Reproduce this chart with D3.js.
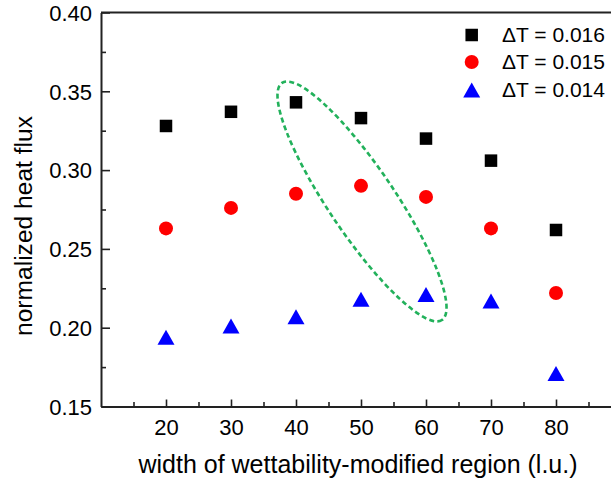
<!DOCTYPE html>
<html>
<head>
<meta charset="utf-8">
<script src="https://cdn.jsdelivr.net/npm/d3@7"></script>
<style>
  html, body { margin: 0; padding: 0; background: #fff; }
  svg { display: block; }
  text { font-family: "Liberation Sans", Arial, sans-serif; fill: #000; }
</style>
</head>
<body>
<svg id="chart" width="611" height="487"></svg>
<script>
// Width of the wettability-modified region (lattice units)
const widths = [20, 30, 40, 50, 60, 70, 80];

// Normalized heat flux for each superheat
const fluxDT016 = [0.328, 0.337, 0.343, 0.333, 0.320, 0.306, 0.262];
const fluxDT015 = [0.263, 0.276, 0.285, 0.290, 0.283, 0.263, 0.222];
const fluxDT014 = [0.194, 0.201, 0.207, 0.218, 0.221, 0.217, 0.171];

const seriesLabels = ["\u0394T = 0.016", "\u0394T = 0.015", "\u0394T = 0.014"];

// Axis ticks
const xMajorTicks = [20, 30, 40, 50, 60, 70, 80];
const xMinorTicks = [15, 25, 35, 45, 55, 65, 75, 85];
const yMajorTicks = [0.15, 0.20, 0.25, 0.30, 0.35, 0.40];
const yMinorTicks = [0.175, 0.225, 0.275, 0.325, 0.375];

// Highlighted group: ends of the ellipse's long axis (data units)
const highlightEnds = [[37.85, 0.3553], [62.46, 0.2049]];

const svg = d3.select("#chart");
const W = 611, H = 487;
const plotLeft = 101, plotTop = 12.5, plotBottom = 406.5;

const x = d3.scaleLinear().domain([10, 90]).range([plotLeft, 621]);
const y = d3.scaleLinear().domain([0.15, 0.40]).range([plotBottom, plotTop]);

const axisColor = "#222";

// top frame line
svg.append("line")
  .attr("x1", plotLeft).attr("x2", W)
  .attr("y1", plotTop).attr("y2", plotTop)
  .attr("stroke", axisColor).attr("stroke-width", 2);

// x axis
const gx = svg.append("g").attr("transform", `translate(0,${plotBottom})`);
gx.call(d3.axisBottom(x).tickValues(xMajorTicks).tickSizeInner(-7).tickSizeOuter(0)
  .tickPadding(13).tickFormat(d3.format("d")));
svg.append("g").attr("transform", `translate(0,${plotBottom})`)
  .call(d3.axisBottom(x).tickValues(xMinorTicks).tickSizeInner(-4.5).tickSizeOuter(0).tickFormat(""))
  .call(g => g.select(".domain").remove());

// y axis
const gy = svg.append("g").attr("transform", `translate(${plotLeft},0)`);
gy.call(d3.axisLeft(y).tickValues(yMajorTicks).tickSizeInner(-9).tickSizeOuter(0)
  .tickPadding(9).tickFormat(d3.format(".2f")));
svg.append("g").attr("transform", `translate(${plotLeft},0)`)
  .call(d3.axisLeft(y).tickValues(yMinorTicks).tickSizeInner(-5).tickSizeOuter(0).tickFormat(""))
  .call(g => g.select(".domain").remove());

svg.selectAll(".domain").attr("stroke", axisColor).attr("stroke-width", 2);
svg.selectAll(".tick line").attr("stroke", axisColor).attr("stroke-width", 1.6);
svg.selectAll(".tick text")
  .attr("font-size", 22)
  .attr("font-family", "'Liberation Sans', Arial, sans-serif")
  .attr("fill", "#000");
gx.selectAll(".tick text").attr("dy", "0.71em");
gy.selectAll(".tick text").attr("dy", "0.35em");

// axis titles
svg.append("text")
  .attr("x", 358).attr("y", 473)
  .attr("text-anchor", "middle")
  .attr("font-size", 25)
  .text("width of wettability-modified region (l.u.)");

svg.append("text")
  .attr("transform", "translate(32,226) rotate(-90)")
  .attr("text-anchor", "middle")
  .attr("font-size", 24.6)
  .text("normalized heat flux");

// marker drawers
const sq = 12.5, cr = 7, triW = 17, triH = 15;
function drawSquare(g, cx, cy) {
  g.append("rect").attr("x", cx - sq / 2).attr("y", cy - sq / 2)
    .attr("width", sq).attr("height", sq).attr("fill", "#000");
}
function drawCircle(g, cx, cy) {
  g.append("circle").attr("cx", cx).attr("cy", cy).attr("r", cr).attr("fill", "#ff0000");
}
function drawTriangle(g, cx, cy) {
  g.append("path")
    .attr("d", `M${cx},${cy - triH / 2}L${cx + triW / 2},${cy + triH / 2}L${cx - triW / 2},${cy + triH / 2}Z`)
    .attr("fill", "#0000ff");
}

const series = [
  { values: fluxDT016, draw: drawSquare },
  { values: fluxDT015, draw: drawCircle },
  { values: fluxDT014, draw: drawTriangle }
];

const marks = svg.append("g");
series.forEach(s => {
  widths.forEach((w, i) => s.draw(marks, x(w), y(s.values[i])));
});

// dashed ellipse around the highlighted group
const [p1, p2] = highlightEnds.map(d => [x(d[0]), y(d[1])]);
const ecx = (p1[0] + p2[0]) / 2, ecy = (p1[1] + p2[1]) / 2;
const ea = Math.hypot(p2[0] - p1[0], p2[1] - p1[1]) / 2;
const eang = Math.atan2(p2[1] - p1[1], p2[0] - p1[0]) * 180 / Math.PI;
svg.append("ellipse")
  .attr("cx", 0).attr("cy", 0).attr("rx", ea).attr("ry", 33)
  .attr("transform", `translate(${ecx},${ecy}) rotate(${eang})`)
  .attr("fill", "none")
  .attr("stroke", "#22b15b")
  .attr("stroke-width", 2.6)
  .attr("stroke-dasharray", "5,3.2");

// legend
const legend = svg.append("g");
const legendY = [35, 62, 90];
series.forEach((s, i) => {
  s.draw(legend, 471.7, legendY[i]);
  legend.append("text")
    .attr("x", 502).attr("y", legendY[i] + 7.3)
    .attr("font-size", 21)
    .text(seriesLabels[i]);
});
</script>
</body>
</html>
